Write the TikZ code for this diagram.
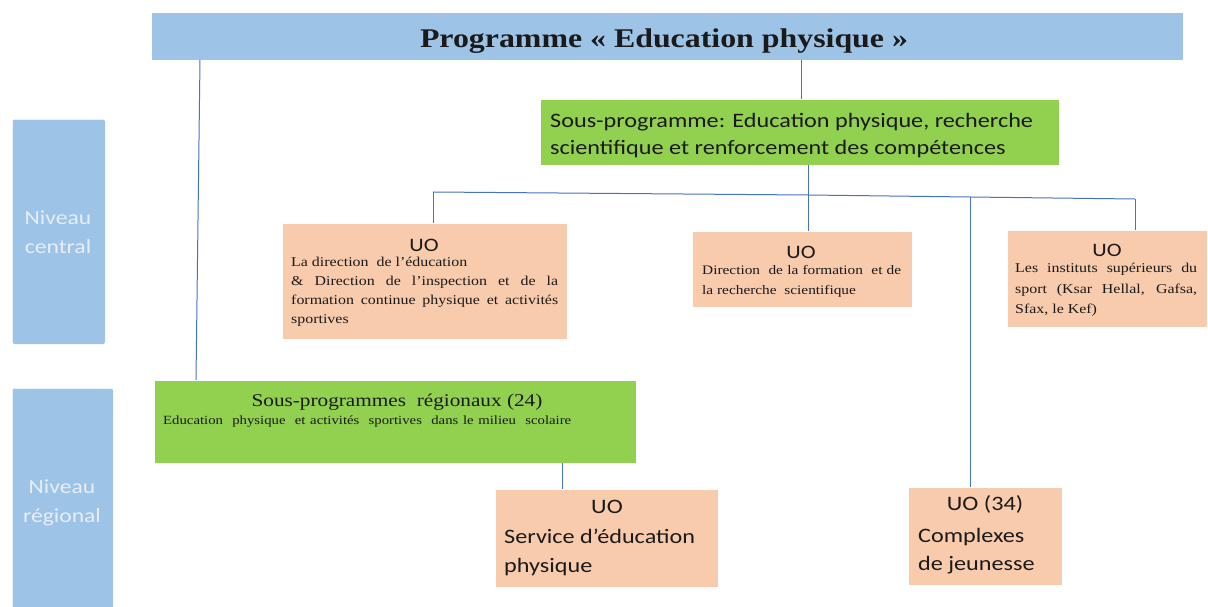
\documentclass[tikz,border=0pt]{standalone}
\usepackage{fontspec}
\setmainfont[FakeStretch=1.18]{Liberation Serif}
\newfontfamily\calib[FakeStretch=1.18]{Carlito}
\definecolor{bluebox}{HTML}{9DC3E6}
\definecolor{greenbox}{HTML}{92D050}
\definecolor{orangebox}{HTML}{F8CBAD}
\definecolor{linkblue}{HTML}{4472C4}
\definecolor{txt}{HTML}{1A1A1A}
\definecolor{lvltxt}{HTML}{E6EEF8}
\begin{document}
\begin{tikzpicture}[x=1pt,y=-1pt,
  boxbase/.style={draw=white, line width=0.6pt, inner sep=0pt, anchor=north west},
  bluefill/.style={boxbase, fill=bluebox},
  lvlbox/.style={boxbase, fill=bluebox, rounded corners=2pt},
  greenfill/.style={boxbase, fill=greenbox},
  orangefill/.style={boxbase, fill=orangebox},
  link/.style={draw=linkblue, line width=1pt},
  sanslbl/.style={font=\calib, text=txt, inner sep=0pt},
  seriflbl/.style={text=txt, inner sep=0pt},
  lvllbl/.style={font=\calib\fontsize{20}{29}\selectfont, text=lvltxt, align=center, inner sep=0pt}
]
\useasboundingbox (0,0) rectangle (1208,607);
\fill[white] (0,0) rectangle (1208,607);

% boxes
\node[bluefill, minimum width=1032pt, minimum height=48pt] (title) at (151,12) {};
\node[lvlbox, minimum width=93pt, minimum height=225pt] (lvlc) at (12,119) {};
\node[lvlbox, minimum width=101pt, minimum height=222pt] (lvlr) at (12,388) {};
\node[greenfill, minimum width=519pt, minimum height=66pt] (sp) at (540,99) {};
\node[orangefill, minimum width=285pt, minimum height=116pt] (uo1) at (282,223) {};
\node[orangefill, minimum width=220pt, minimum height=76pt] (uo2) at (692,231) {};
\node[orangefill, minimum width=200pt, minimum height=97pt] (uo3) at (1007,230) {};
\node[greenfill, minimum width=482pt, minimum height=83pt] (spr) at (154,380) {};
\node[orangefill, minimum width=223pt, minimum height=98pt] (uos) at (495,489) {};
\node[orangefill, minimum width=154pt, minimum height=98pt] (uoc) at (908,487) {};

% texts
\node[seriflbl, anchor=base, font=\bfseries\fontsize{27}{30}\selectfont] (ttitle) at (664,48) {Programme « Education physique »};
\node[lvllbl] (tlvlc) at (58,232) {Niveau\\central};
\node[lvllbl] (tlvlr) at (62,503) {Niveau\\régional};

\node[sanslbl, anchor=base west, font=\calib\fontsize{20.5}{28}\selectfont, align=left] (tsp) at (550,155)
  {Sous-programme: Education physique, recherche\\scientifique et renforcement des compétences};

\node[sanslbl, anchor=base, font=\calib\fontsize{19}{22}\selectfont] (tuo1) at (424,251) {UO};
\node[seriflbl, anchor=north west, font=\fontsize{13.5}{19}\selectfont, text width=267pt, align=justify] (tuo1b) at (291,257)
  {La direction\ \ de l'éducation\\
   \makebox[267pt][s]{\& Direction de l'inspection et de la}\\
   \makebox[267pt][s]{formation continue physique et activités}\\
   sportives};

\node[sanslbl, anchor=base, font=\calib\fontsize{19}{22}\selectfont] (tuo2) at (801,258) {UO};
\node[seriflbl, anchor=north west, font=\fontsize{13}{20}\selectfont, text width=199pt, align=justify] (tuo2b) at (702,265)
  {\makebox[199pt][s]{Direction\ \ de la formation\ \ et de}\\
   la recherche\ \ scientifique};

\node[sanslbl, anchor=base, font=\calib\fontsize{19}{22}\selectfont] (tuo3) at (1107,256) {UO};
\node[seriflbl, anchor=north west, font=\fontsize{13.5}{20.5}\selectfont, text width=182pt, align=justify] (tuo3b) at (1015,263)
  {\makebox[182pt][s]{Les instituts supérieurs du}\\
   \makebox[182pt][s]{sport (Ksar Hellal, Gafsa,}\\
   Sfax, le Kef)};

\node[seriflbl, anchor=base, font=\fontsize{18}{20}\selectfont] (tspr) at (397,406) {Sous-programmes\ \ régionaux (24)};
\node[seriflbl, anchor=base west, font=\fontsize{12.5}{14}\selectfont] (tsprb) at (163,424)
  {\makebox[408pt][s]{Education\ \ physique\ \ et activités\ \ sportives\ \ dans le milieu\ \ scolaire}};

\node[sanslbl, anchor=base, font=\calib\fontsize{20.5}{29}\selectfont] (tuos) at (607,513) {UO};
\node[sanslbl, anchor=base west, font=\calib\fontsize{20.5}{29}\selectfont, align=left] (tuosb) at (504,572)
  {Service d’éducation\\physique};

\node[sanslbl, anchor=base, font=\calib\fontsize{20.5}{29}\selectfont] (tuoc) at (985,510) {UO (34)};
\node[sanslbl, anchor=base west, font=\calib\fontsize{20.5}{28}\selectfont, align=left] (tuocb) at (918,570)
  {Complexes\\de jeunesse};

% connectors
\coordinate (c1) at (801,60);
\coordinate (c2) at (200,60);
\coordinate (c3) at (808,165);
\coordinate (hl) at (433,192);
\coordinate (hm) at (808,195);
\coordinate (hc) at (970,197);
\coordinate (hr) at (1135,199);
\coordinate (c4) at (562,463);

\draw[link] (c1) -- (c1 |- sp.north);
\draw[link] (c2) -- (196,380) coordinate (c2b);
\draw[link] (c3) -- (hm);
\draw[link] (hl) -- (hm) -- (hc) -- (hr);
\draw[link] (hl) -- (hl |- uo1.north);
\draw[link] (hm) -- (hm |- uo2.north);
\draw[link] (hc) -- (hc |- uoc.north);
\draw[link] (hr) -- (hr |- uo3.north);
\draw[link] (c4) -- (c4 |- uos.north);
\end{tikzpicture}
\end{document}
